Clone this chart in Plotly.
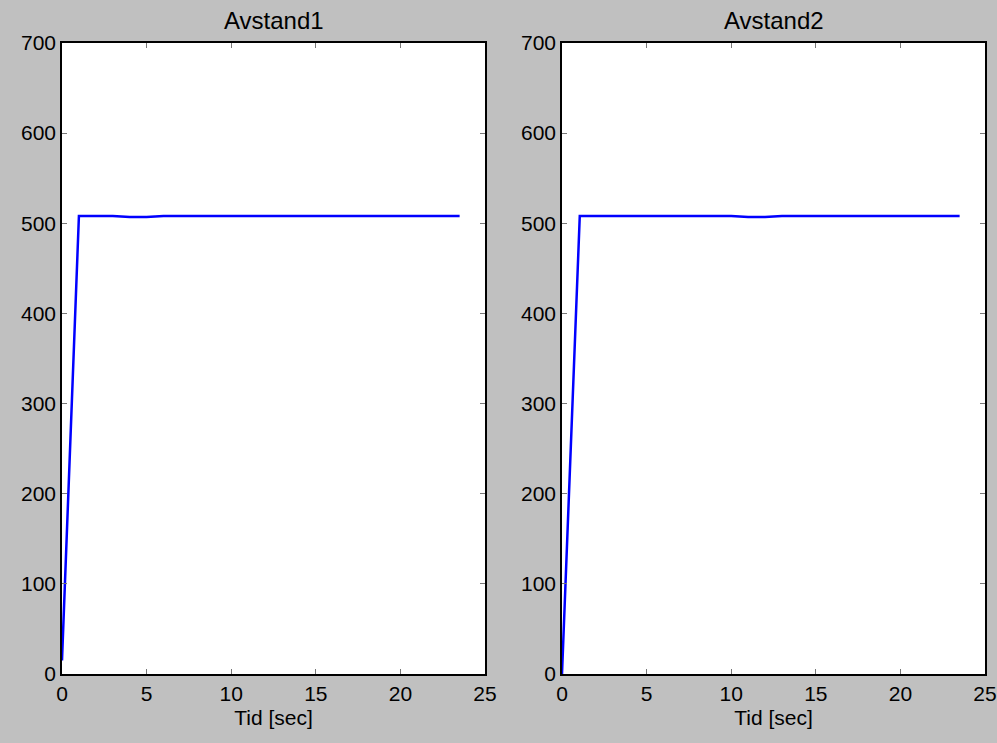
import plotly.graph_objects as go

# Data
t_left = [0, 1, 2, 3, 4, 5, 6, 7, 8, 9, 10, 11, 12, 13, 14, 15, 16, 17, 18, 19, 20, 21, 22, 23, 23.5]
v_left = [15, 508, 508, 508, 507, 507, 508, 508, 508, 508, 508, 508, 508, 508, 508, 508, 508, 508, 508, 508, 508, 508, 508, 508, 508]
t_right = [0, 1.05, 2, 3, 4, 5, 6, 7, 8, 9, 10, 11, 12, 13, 14, 15, 16, 17, 18, 19, 20, 21, 22, 23, 23.5]
v_right = [0, 508, 508, 508, 508, 508, 508, 508, 508, 508, 508, 507, 507, 508, 508, 508, 508, 508, 508, 508, 508, 508, 508, 508, 508]
titles = ["Avstand1", "Avstand2"]
x_title = "Tid [sec]"
x_ticks = [0, 5, 10, 15, 20, 25]
y_ticks = [0, 100, 200, 300, 400, 500, 600, 700]

FONT = "Liberation Sans, Arial, Helvetica, sans-serif"

fig = go.Figure()
fig.add_trace(go.Scatter(x=t_left, y=v_left, mode="lines",
                         line=dict(color="#0000ff", width=2.5), xaxis="x", yaxis="y", showlegend=False))
fig.add_trace(go.Scatter(x=t_right, y=v_right, mode="lines",
                         line=dict(color="#0000ff", width=2.5), xaxis="x2", yaxis="y2", showlegend=False))

axis_common = dict(
    showline=True, linecolor="black", linewidth=1.5, mirror="ticks",
    ticks="inside", ticklen=5, tickcolor="#777777", tickwidth=1,
    showgrid=False, zeroline=False, automargin=False,
    tickfont=dict(family=FONT, size=21, color="black"),
)

d1 = [0, 423 / 923]
d2 = [500 / 923, 1]

fig.update_layout(
    width=997, height=743,
    margin=dict(l=62, r=12, t=43, b=69),
    paper_bgcolor="#c0c0c0", plot_bgcolor="white",
    font=dict(family=FONT, size=21, color="black"),
    xaxis=dict(domain=d1, range=[0, 25], tickvals=x_ticks, anchor="y",
               title=dict(text=x_title, font=dict(family=FONT, size=21), standoff=6), **axis_common),
    yaxis=dict(domain=[0, 1], range=[0, 700], tickvals=y_ticks, anchor="x", **axis_common),
    xaxis2=dict(domain=d2, range=[0, 25], tickvals=x_ticks, anchor="y2",
                title=dict(text=x_title, font=dict(family=FONT, size=21), standoff=6), **axis_common),
    yaxis2=dict(domain=[0, 1], range=[0, 700], tickvals=y_ticks, anchor="x2", **axis_common),
    annotations=[
        dict(text=titles[0], x=(d1[0] + d1[1]) / 2, y=1, xref="paper", yref="paper",
             xanchor="center", yanchor="bottom", yshift=7, showarrow=False,
             font=dict(family=FONT, size=24, color="black")),
        dict(text=titles[1], x=(d2[0] + d2[1]) / 2, y=1, xref="paper", yref="paper",
             xanchor="center", yanchor="bottom", yshift=7, showarrow=False,
             font=dict(family=FONT, size=24, color="black")),
    ],
)

fig.write_html("out.html")
